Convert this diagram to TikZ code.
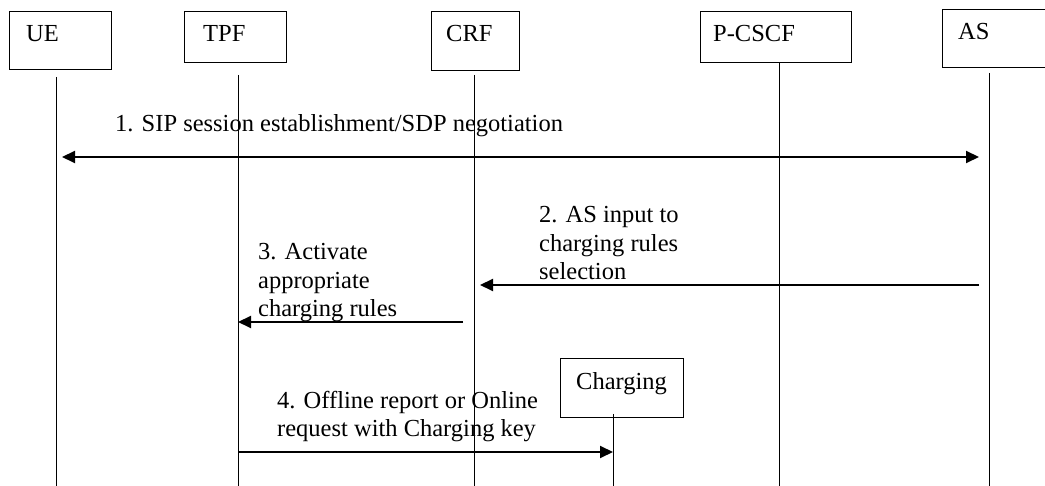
\documentclass[tikz,border=0pt]{standalone}
\usepackage{fontspec}
\setmainfont{Liberation Serif}
\usetikzlibrary{arrows.meta}
\begin{document}
\begin{tikzpicture}[x=1pt,y=-1pt,
  box/.style={draw,line width=1pt,inner sep=0pt},
  lbl/.style={inner sep=0pt,font=\fontsize{24.5}{28.5}\selectfont,align=left},
  life/.style={line width=1pt},
  msg/.style={line width=2pt,-{Triangle[length=13pt,width=12pt]}},
  msgboth/.style={line width=2pt,{Triangle[length=13pt,width=12pt]}-{Triangle[length=13pt,width=12pt]}}]
\useasboundingbox (0,0) rectangle (1045,486);
\clip (0,0) rectangle (1045,486);
% boxes
\node[box,minimum width=102pt,minimum height=58pt] (ue) at (60,41) {};
\node[lbl,anchor=base west] (uet) at (26,42) {UE};
\node[box,minimum width=102pt,minimum height=51pt] (tpf) at (235,37.5) {};
\node[lbl,anchor=base west] (tpft) at (203,42) {TPF};
\node[box,minimum width=88pt,minimum height=59pt] (crf) at (475,41.5) {};
\node[lbl,anchor=base west] (crft) at (446,42) {CRF};
\node[box,minimum width=151pt,minimum height=51pt] (pcscf) at (775.5,37.5) {};
\node[lbl,anchor=base west] (pcscft) at (713,42) {P-CSCF};
\node[box,minimum width=110pt,minimum height=58pt] (as) at (997,39) {};
\node[lbl,anchor=base west] (ast) at (958,40) {AS};
\node[box,minimum width=123pt,minimum height=59pt] (chg) at (621.5,388.5) {};
\node[lbl,anchor=base west] (chgt) at (576,390) {Charging};
% lifelines
\coordinate (ueT) at (56,77);   \coordinate (ueB) at (56,486);
\coordinate (tpfT) at (238,75); \coordinate (tpfB) at (238,486);
\coordinate (crfT) at (474,75); \coordinate (crfB) at (474,486);
\coordinate (pcT) at (779,63);  \coordinate (pcB) at (779,486);
\coordinate (asT) at (989,73);  \coordinate (asB) at (989,486);
\coordinate (chT) at (613,414); \coordinate (chB) at (613,486);
\draw[life] (ueT) -- (ueB);
\draw[life] (tpfT) -- (tpfB);
\draw[life] (crfT) -- (crfB);
\draw[life] (pcT) -- (pcB);
\draw[life] (asT) -- (asB);
\draw[life] (chT) -- (chB);
% messages
\coordinate (m1a) at (62,157);  \coordinate (m1b) at (979,157);
\draw[msgboth] (m1a) -- (m1b);
\node[lbl,anchor=base west] (t1) at (115,132) {1. SIP session establishment/SDP negotiation};
\coordinate (m2a) at (979,285); \coordinate (m2b) at (480,285);
\draw[msg] (m2a) -- (m2b);
\node[lbl,anchor=base west] (t2) at (539,280) {2. AS input to\\charging rules\\selection};
\coordinate (m3a) at (463,322); \coordinate (m3b) at (238,322);
\draw[msg] (m3a) -- (m3b);
\node[lbl,anchor=base west] (t3) at (258,317) {3. Activate\\appropriate\\charging rules};
\coordinate (m4a) at (239,452); \coordinate (m4b) at (613,452);
\draw[msg] (m4a) -- (m4b);
\node[lbl,anchor=base west] (t4) at (277,437) {4. Offline report or Online\\request with Charging key};
\end{tikzpicture}
\end{document}
